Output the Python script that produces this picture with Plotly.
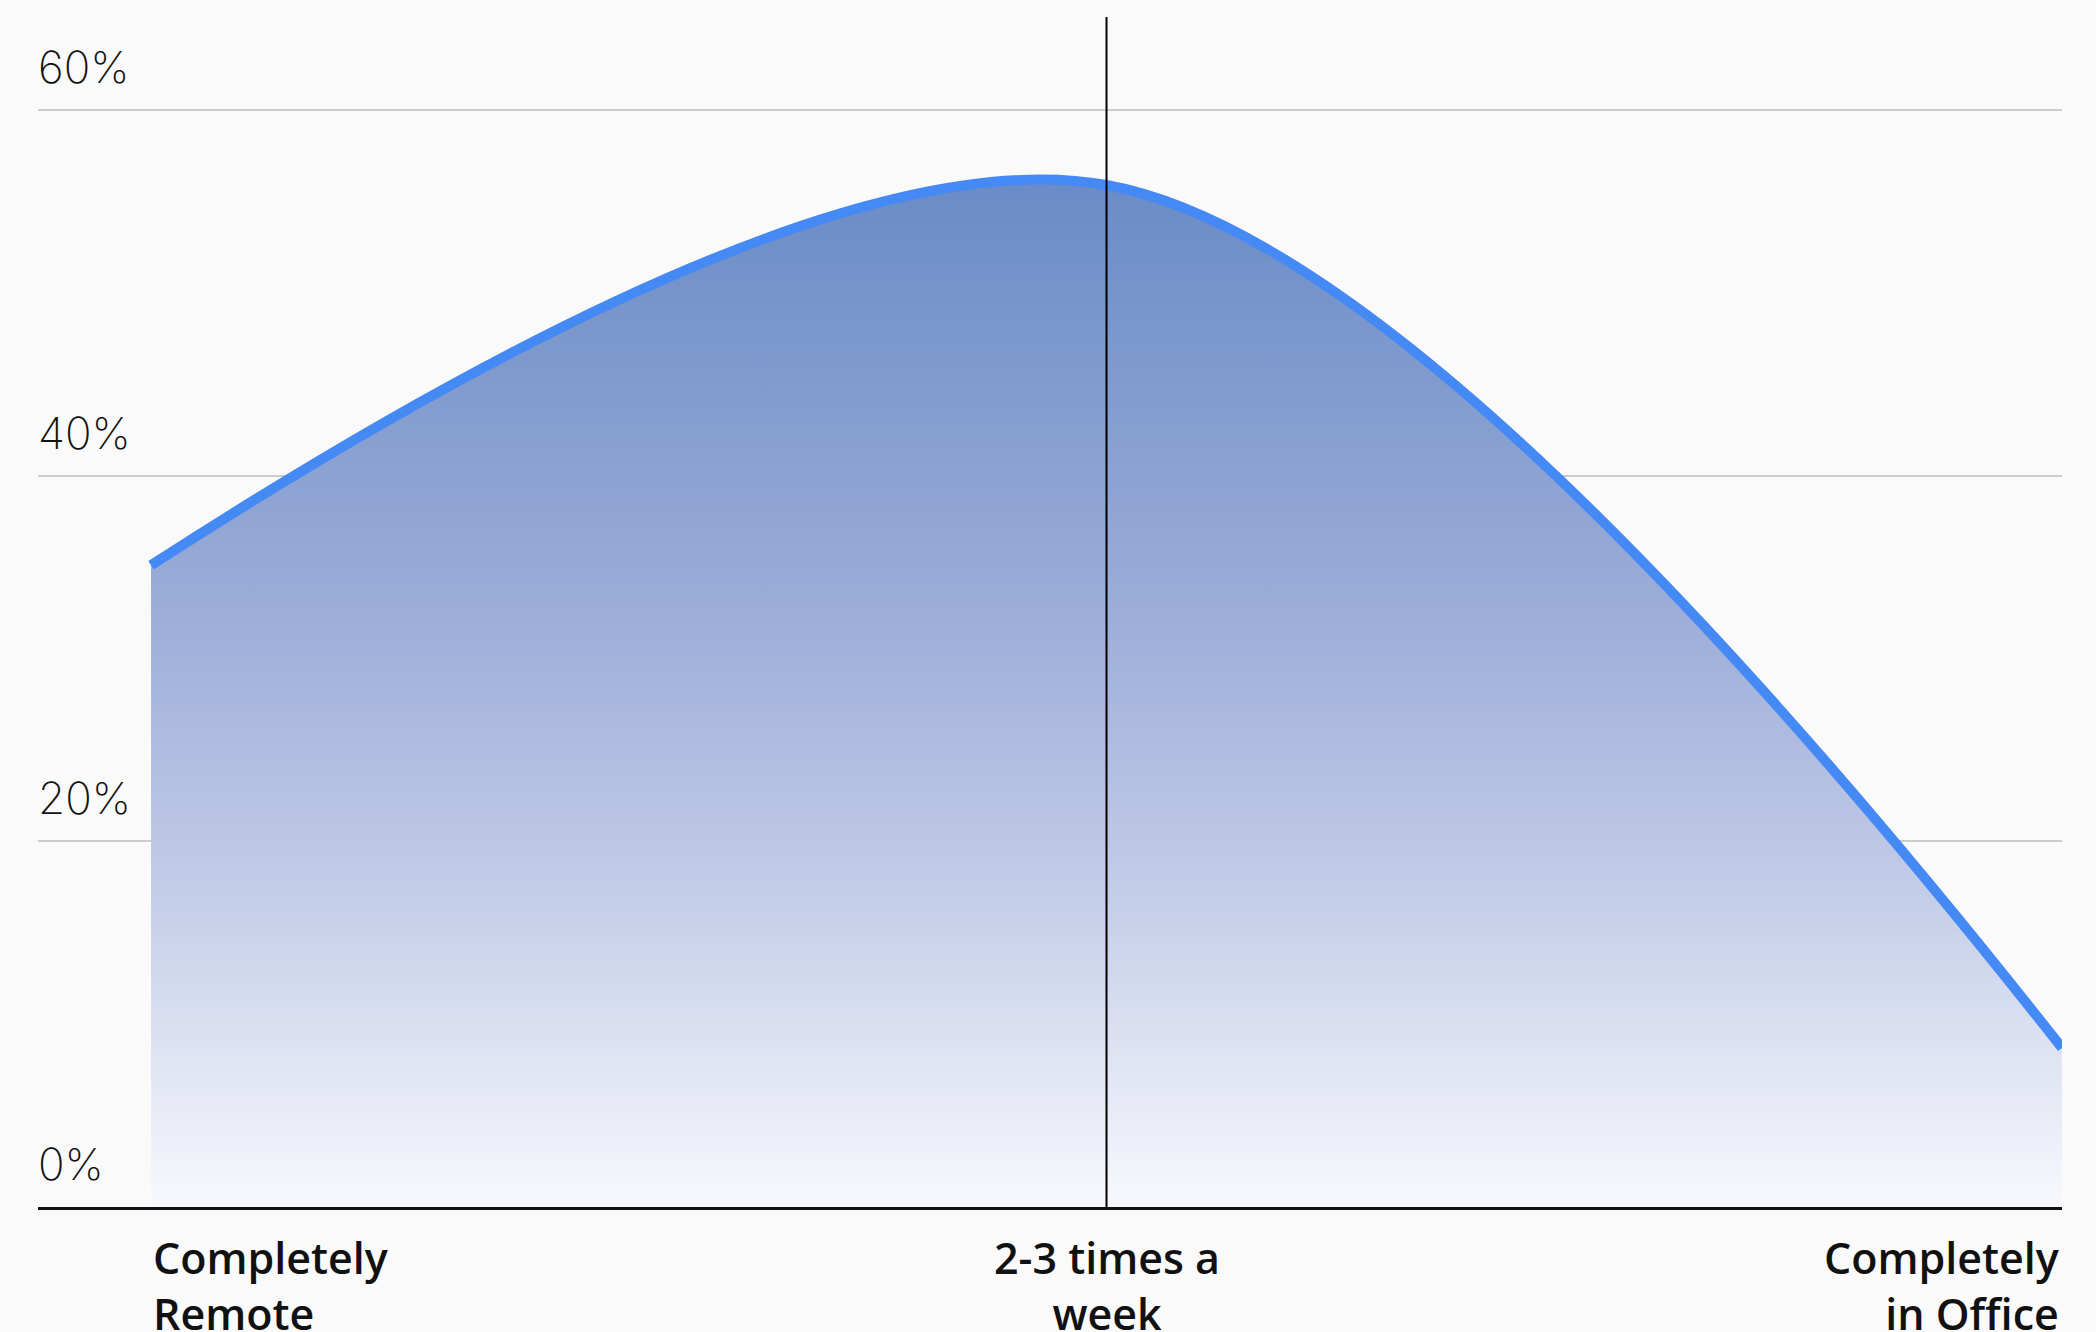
import plotly.graph_objects as go

# Preferred working arrangement: share of respondents (%)
categories = ["Completely<br>Remote", "2-3 times a<br>week", "Completely<br>in Office"]
share = [35.1, 55.9, 8.7]
tick_values = [0, 20, 40, 60]
tick_labels = ["0%", "20%", "40%", "60%"]

x_pos = list(range(len(categories)))

fig = go.Figure()

fig.add_trace(go.Scatter(
    x=x_pos,
    y=share,
    mode="lines",
    line=dict(color="#4589f5", width=10, shape="spline", smoothing=0.95),
    fill="tozeroy",
    fillgradient=dict(
        type="vertical",
        start=0,
        stop=57,
        colorscale=[
            [0.0, "rgb(248,249,253)"],
            [0.3, "rgb(196,205,232)"],
            [0.58, "rgb(155,172,216)"],
            [1.0, "rgb(104,138,197)"],
        ],
    ),
    hoverinfo="skip",
    showlegend=False,
))

# marker for the middle category
fig.add_shape(
    type="line", xref="x", yref="paper",
    x0=1, x1=1, y0=0, y1=1,
    line=dict(color="#000000", width=2),
    layer="above",
)

# y tick labels sit just above their gridlines at the left edge
for v, t in zip(tick_values, tick_labels):
    fig.add_annotation(
        x=0, xref="paper", y=v, yref="y",
        text=t, showarrow=False,
        xanchor="left", yanchor="bottom",
        xshift=-2, yshift=14,
        font=dict(family="Inter, Lato, sans-serif", size=44, color="#111111", weight=200),
    )

# category labels under the axis
anchors = ["left", "center", "right"]
for xp, lab, anc in zip(x_pos, categories, anchors):
    fig.add_annotation(
        x=xp, xref="x", y=0, yref="paper",
        text=lab, showarrow=False,
        xanchor=anc, yanchor="top", align=anc,
        yshift=-19,
        font=dict(family="Open Sans, Lato, sans-serif", size=43, color="#111111", weight=600),
    )

fig.update_layout(
    width=2096, height=1332,
    margin=dict(l=38, r=34, t=17, b=125),
    paper_bgcolor="#fafafa",
    plot_bgcolor="#fafafa",
    xaxis=dict(
        range=[-0.1183, 2],
        showgrid=False, zeroline=False,
        showticklabels=False, ticks="",
        showline=True, linecolor="#111111", linewidth=3,
    ),
    yaxis=dict(
        range=[0, 65.09],
        tickvals=tick_values,
        showticklabels=False, ticks="",
        showgrid=True, gridcolor="#cccccc", gridwidth=2,
        zeroline=False, showline=False,
    ),
)

fig.write_html("out.html")
